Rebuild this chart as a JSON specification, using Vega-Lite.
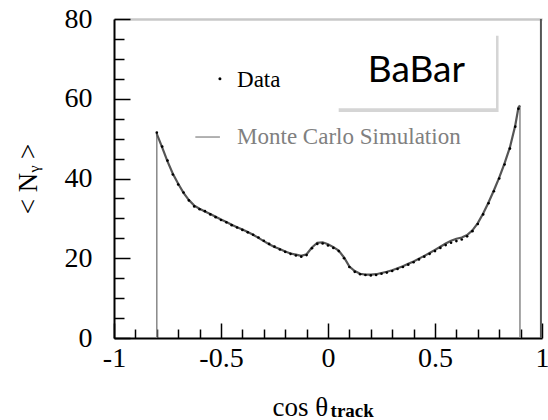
{
  "$schema": "https://vega.github.io/schema/vega-lite/v6.json",
  "width": 428,
  "height": 319,
  "autosize": {"type": "none"},
  "padding": {"left": 114, "top": 19, "right": 6, "bottom": 82},
  "background": "white",
  "config": {"view": {"stroke": null}, "font": "Liberation Serif"},
  "datasets": {
    "curve": [
      {"x": -0.8, "data": 51.5, "mc": 51.2},
      {"x": -0.775, "data": 48.0, "mc": 47.8},
      {"x": -0.75, "data": 44.5, "mc": 44.3},
      {"x": -0.725, "data": 41.0, "mc": 41.2},
      {"x": -0.7, "data": 38.5, "mc": 38.7},
      {"x": -0.675, "data": 36.5, "mc": 36.4},
      {"x": -0.65, "data": 34.5, "mc": 34.6},
      {"x": -0.625, "data": 33.0, "mc": 33.2},
      {"x": -0.6, "data": 32.3, "mc": 32.4},
      {"x": -0.575, "data": 31.8, "mc": 31.7},
      {"x": -0.55, "data": 31.0, "mc": 31.1},
      {"x": -0.525, "data": 30.3, "mc": 30.4},
      {"x": -0.5, "data": 29.6, "mc": 29.7},
      {"x": -0.475, "data": 29.0, "mc": 29.1},
      {"x": -0.45, "data": 28.3, "mc": 28.4},
      {"x": -0.425, "data": 27.7, "mc": 27.8},
      {"x": -0.4, "data": 27.1, "mc": 27.2},
      {"x": -0.375, "data": 26.5, "mc": 26.6},
      {"x": -0.35, "data": 25.9, "mc": 25.9},
      {"x": -0.325, "data": 25.2, "mc": 25.1},
      {"x": -0.3, "data": 24.4, "mc": 24.3},
      {"x": -0.275, "data": 23.6, "mc": 23.5},
      {"x": -0.25, "data": 22.9, "mc": 22.8},
      {"x": -0.225, "data": 22.2, "mc": 22.3},
      {"x": -0.2, "data": 21.6, "mc": 21.7},
      {"x": -0.175, "data": 21.1, "mc": 21.2},
      {"x": -0.15, "data": 20.7, "mc": 20.9},
      {"x": -0.125, "data": 20.4, "mc": 20.6},
      {"x": -0.1, "data": 20.8, "mc": 21.0},
      {"x": -0.075, "data": 22.5, "mc": 22.7},
      {"x": -0.05, "data": 23.6, "mc": 23.9},
      {"x": -0.025, "data": 23.7, "mc": 24.0},
      {"x": 0.0, "data": 23.2, "mc": 23.5},
      {"x": 0.025, "data": 22.6, "mc": 22.8},
      {"x": 0.05, "data": 21.8, "mc": 21.9},
      {"x": 0.075, "data": 20.0, "mc": 20.2},
      {"x": 0.1, "data": 17.8, "mc": 17.9},
      {"x": 0.125, "data": 16.6, "mc": 16.8},
      {"x": 0.15, "data": 16.0, "mc": 16.1},
      {"x": 0.175, "data": 15.8, "mc": 15.9},
      {"x": 0.2, "data": 15.7, "mc": 15.9},
      {"x": 0.225, "data": 15.8, "mc": 16.0},
      {"x": 0.25, "data": 16.1, "mc": 16.3},
      {"x": 0.275, "data": 16.4, "mc": 16.6},
      {"x": 0.3, "data": 16.8, "mc": 17.0},
      {"x": 0.325, "data": 17.3, "mc": 17.5},
      {"x": 0.35, "data": 17.8, "mc": 18.0},
      {"x": 0.375, "data": 18.4, "mc": 18.6},
      {"x": 0.4, "data": 19.0, "mc": 19.2},
      {"x": 0.425, "data": 19.7, "mc": 19.9},
      {"x": 0.45, "data": 20.4, "mc": 20.6},
      {"x": 0.475, "data": 21.1, "mc": 21.3},
      {"x": 0.5, "data": 21.8, "mc": 22.1},
      {"x": 0.525, "data": 22.6, "mc": 22.9},
      {"x": 0.55, "data": 23.3, "mc": 23.7},
      {"x": 0.575, "data": 23.9, "mc": 24.4},
      {"x": 0.6, "data": 24.3, "mc": 24.9},
      {"x": 0.625, "data": 24.7, "mc": 25.2},
      {"x": 0.65, "data": 25.5, "mc": 25.8},
      {"x": 0.675, "data": 26.8, "mc": 27.0},
      {"x": 0.7, "data": 28.6, "mc": 28.8},
      {"x": 0.725, "data": 31.0, "mc": 31.2},
      {"x": 0.75, "data": 33.8, "mc": 34.0},
      {"x": 0.775, "data": 36.8, "mc": 37.0},
      {"x": 0.8, "data": 40.0, "mc": 40.2},
      {"x": 0.825, "data": 43.5, "mc": 43.8},
      {"x": 0.85, "data": 47.5, "mc": 47.8},
      {"x": 0.875, "data": 53.0, "mc": 53.3},
      {"x": 0.89, "data": 57.5, "mc": 57.8},
      {"x": 0.897, "data": null, "mc": 58.3}
    ],
    "edges": [
      {"x": -0.8, "y": 0, "y2": 51.2},
      {"x": 0.897, "y": 0, "y2": 58.3}
    ],
    "frame": [
      {"x": 0.995, "y": 0, "y2": 80}
    ],
    "box": [
      {"x1": 0.042, "x2": 0.785, "y1": 57.6, "y2": 76.7, "sx1": 0.05, "sx2": 0.797, "sy1": 56.7, "sy2": 75.8}
    ],
    "legdot": [{"x": -0.505, "y": 65.0}],
    "legline": [{"x": -0.62, "x2": -0.505, "y": 50.4}],
    "datalabel": [{"x": -0.425, "y": 64.8, "t": "Data"}],
    "mclabel": [{"x": -0.425, "y": 50.4, "t": "Monte Carlo Simulation"}],
    "babar": [{"x": 0.413, "y": 67.0, "t": "BaBar"}],
    "sub": [{"x": 0.012, "y": -19.8, "t": "track"}]
  },
  "layer": [
    {
      "data": {"name": "box"},
      "mark": {"type": "rect", "fill": "#888", "opacity": 0.35},
      "encoding": {
        "x": {"field": "sx1", "type": "quantitative", "scale": {"domain": [-1, 1], "nice": false, "zero": false},
              "axis": {"orient": "top", "labels": false, "ticks": false, "grid": false, "title": null, "domainColor": "#c8c8c8", "domainWidth": 2.5}},
        "x2": {"field": "sx2"},
        "y": {"field": "sy1", "type": "quantitative", "scale": {"domain": [0, 80], "nice": false, "zero": false}, "axis": null},
        "y2": {"field": "sy2"}
      }
    },
    {
      "data": {"name": "box"},
      "mark": {"type": "rect", "fill": "white"},
      "encoding": {
        "x": {"field": "x1", "type": "quantitative", "axis": null},
        "x2": {"field": "x2"},
        "y": {"field": "y1", "type": "quantitative", "axis": null},
        "y2": {"field": "y2"}
      }
    },
    {
      "data": {"name": "frame"},
      "mark": {"type": "rule", "stroke": "#555", "strokeWidth": 2},
      "encoding": {
        "x": {"field": "x", "type": "quantitative", "axis": null},
        "y": {"field": "y", "type": "quantitative", "axis": null},
        "y2": {"field": "y2"}
      }
    },
    {
      "data": {"name": "edges"},
      "mark": {"type": "rule", "stroke": "#888", "strokeWidth": 1.5},
      "encoding": {
        "x": {"field": "x", "type": "quantitative",
              "axis": {"orient": "bottom", "values": [-0.9, -0.8, -0.7, -0.6, -0.4, -0.3, -0.2, -0.1, 0.1, 0.2, 0.3, 0.4, 0.6, 0.7, 0.8, 0.9], "labels": false, "domain": false, "grid": false, "title": null, "tickSize": -9, "tickColor": "black", "tickWidth": 1.5}},
        "y": {"field": "y", "type": "quantitative",
              "axis": {"orient": "left", "values": [5, 10, 15, 25, 30, 35, 45, 50, 55, 65, 70, 75], "labels": false, "domain": false, "grid": false, "title": null, "tickSize": -10, "tickColor": "black", "tickWidth": 1.5}},
        "y2": {"field": "y2"}
      }
    },
    {
      "data": {"name": "curve"},
      "mark": {"type": "line", "stroke": "#555", "strokeWidth": 2.2},
      "encoding": {
        "x": {"field": "x", "type": "quantitative",
              "axis": {"orient": "bottom", "values": [-1, -0.5, 0, 0.5, 1], "labels": false, "domain": false, "grid": false, "title": null, "tickSize": -15, "tickColor": "black", "tickWidth": 1.5}},
        "y": {"field": "mc", "type": "quantitative",
              "axis": {"orient": "left", "values": [0, 20, 40, 60, 80], "labels": false, "domain": false, "grid": false, "title": null, "tickSize": -16, "tickColor": "black", "tickWidth": 1.5}}
      }
    },
    {
      "data": {"name": "curve"},
      "transform": [{"filter": "datum.data != null"}],
      "mark": {"type": "point", "filled": true, "color": "black", "size": 7, "opacity": 1},
      "encoding": {
        "x": {"field": "x", "type": "quantitative",
              "axis": {"orient": "bottom", "values": [-1, -0.5, 0, 0.5, 1], "ticks": false, "grid": false, "domainColor": "black", "domainWidth": 2, "labelExpr": "'' + datum.value", "labelFont": "Liberation Serif", "labelFontSize": 28, "labelColor": "black", "labelPadding": 6, "labelFlush": false, "labelOverlap": false,
                       "title": "cos θ", "titleFont": "Liberation Serif", "titleFontSize": 27, "titleFontWeight": "normal", "titleColor": "black", "titleAlign": "left", "titleAnchor": "start", "titleBaseline": "alphabetic", "titleX": 158, "titleY": 77}},
        "y": {"field": "data", "type": "quantitative",
              "axis": {"orient": "left", "values": [0, 20, 40, 60, 80], "ticks": false, "grid": false, "domainColor": "black", "domainWidth": 2, "labelFont": "Liberation Serif", "labelFontSize": 28, "labelColor": "black", "labelPadding": 22, "labelFlush": false, "labelOverlap": false,
                       "title": "< Nᵧ >", "titleFont": "Liberation Serif", "titleFontSize": 27, "titleFontWeight": "normal", "titleColor": "black", "titlePadding": 22}}
      }
    },
    {
      "data": {"name": "legdot"},
      "mark": {"type": "point", "filled": true, "color": "black", "size": 9, "opacity": 1},
      "encoding": {
        "x": {"field": "x", "type": "quantitative", "axis": null},
        "y": {"field": "y", "type": "quantitative", "axis": null}
      }
    },
    {
      "data": {"name": "legline"},
      "mark": {"type": "rule", "stroke": "#999", "strokeWidth": 1.5},
      "encoding": {
        "x": {"field": "x", "type": "quantitative", "axis": null},
        "x2": {"field": "x2"},
        "y": {"field": "y", "type": "quantitative", "axis": null}
      }
    },
    {
      "data": {"name": "datalabel"},
      "mark": {"type": "text", "baseline": "middle", "align": "left", "font": "Liberation Serif", "fontSize": 23, "color": "black"},
      "encoding": {
        "x": {"field": "x", "type": "quantitative", "axis": null},
        "y": {"field": "y", "type": "quantitative", "axis": null},
        "text": {"field": "t"}
      }
    },
    {
      "data": {"name": "mclabel"},
      "mark": {"type": "text", "baseline": "middle", "align": "left", "font": "Liberation Serif", "fontSize": 23, "color": "#808080"},
      "encoding": {
        "x": {"field": "x", "type": "quantitative", "axis": null},
        "y": {"field": "y", "type": "quantitative", "axis": null},
        "text": {"field": "t"}
      }
    },
    {
      "data": {"name": "babar"},
      "mark": {"type": "text", "baseline": "middle", "align": "center", "font": "Lato", "fontSize": 37, "color": "black"},
      "encoding": {
        "x": {"field": "x", "type": "quantitative", "axis": null},
        "y": {"field": "y", "type": "quantitative", "axis": null},
        "text": {"field": "t"}
      }
    },
    {
      "data": {"name": "sub"},
      "mark": {"type": "text", "baseline": "alphabetic", "align": "left", "font": "Liberation Serif", "fontSize": 19, "fontWeight": "bold", "color": "black"},
      "encoding": {
        "x": {"field": "x", "type": "quantitative", "axis": null},
        "y": {"field": "y", "type": "quantitative", "axis": null},
        "text": {"field": "t"}
      }
    }
  ],
  "resolve": {"axis": {"x": "independent", "y": "independent"}}
}
